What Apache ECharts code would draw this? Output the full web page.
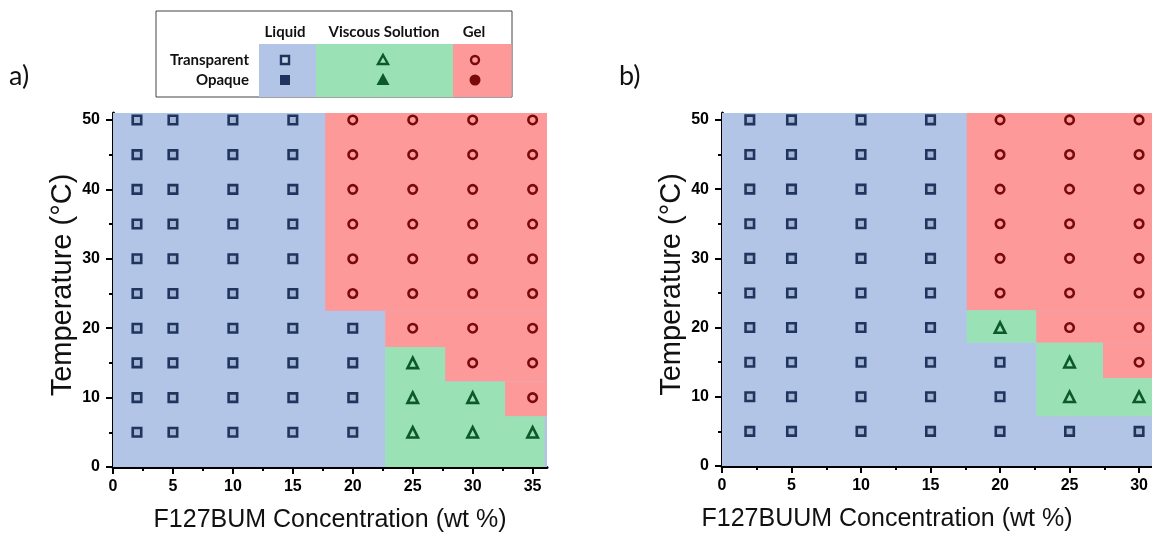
<!DOCTYPE html>
<html>
<head>
<meta charset="utf-8">
<script src="https://cdn.jsdelivr.net/npm/echarts@6/dist/echarts.min.js"></script>
<style>html,body{margin:0;padding:0;background:#fff}#c{width:1152px;height:534px}</style>
</head>
<body>
<div id="c"></div>
<script>
// ---- data ----
const concentrations = [2, 5, 10, 15, 20, 25, 30, 35];
const temperatures = [5, 10, 15, 20, 25, 30, 35, 40, 45, 50];
const xTicks = [0, 5, 10, 15, 20, 25, 30, 35];
const xMinorTicks = [2.5, 7.5, 12.5, 17.5, 22.5, 27.5, 32.5];
const yTicks = [0, 10, 20, 30, 40, 50];
const yMinorTicks = [5, 15, 25, 35, 45];
// phase per concentration (row) over temperatures 5..50 : L=liquid, V=viscous solution, G=gel
const phasesA = [
  'LLLLLLLLLL', // 2
  'LLLLLLLLLL', // 5
  'LLLLLLLLLL', // 10
  'LLLLLLLLLL', // 15
  'LLLLGGGGGG', // 20
  'VVVGGGGGGG', // 25
  'VVGGGGGGGG', // 30
  'VGGGGGGGGG'  // 35
];
const phasesB = [
  'LLLLLLLLLL', // 2
  'LLLLLLLLLL', // 5
  'LLLLLLLLLL', // 10
  'LLLLLLLLLL', // 15
  'LLLVGGGGGG', // 20
  'LVVGGGGGGG', // 25
  'LVGGGGGGGG', // 30
  '----------'  // 35 (outside visible area)
];
// phase regions: [x0, y0, x1, y1]
const liquidRegionA = [[0, 0, 36.2, 51]];
const gelRegionA = [[17.7, 22.5, 36.2, 51], [22.7, 17.3, 36.2, 22.5], [27.7, 12.3, 36.2, 17.3], [32.7, 7.3, 36.2, 12.3]];
const viscousRegionA = [[22.7, 0, 27.7, 17.3], [27.7, 0, 32.7, 12.3], [32.7, 0, 36.0, 7.3]];
const liquidRegionB = [[0, 0, 30.93, 51]];
const gelRegionB = [[17.6, 22.5, 30.93, 51], [22.6, 17.8, 30.93, 22.5], [27.4, 12.7, 30.93, 17.8]];
const viscousRegionB = [[17.6, 17.8, 22.6, 22.5], [22.6, 7.2, 27.4, 17.8], [27.4, 7.2, 30.93, 12.7]];
const xMaxA = 36.2;
const xMaxB = 30.93; // panel b is cut at the right edge of the picture

// ---- styles ----
const C = {
  liquidBg: '#b2c5e6', gelBg: '#fe9999', viscBg: '#9ae2b6',
  liquid: '#1f3560', gel: '#7a0a0a', visc: '#0c5a2b'
};
const FONT = 'Arial, "Liberation Sans", sans-serif';
const LG = 'Lato, Calibri, "Open Sans", sans-serif';

function pointsFor(phases, code) {
  const out = [];
  phases.forEach((row, i) => {
    for (let j = 0; j < row.length; j++) {
      if (row[j] === code) out.push([concentrations[i], temperatures[j]]);
    }
  });
  return out;
}
function regionSeries(idx, rects, color) {
  return {
    type: 'custom', xAxisIndex: idx * 2, yAxisIndex: idx * 2, silent: true, z: 1, clip: false,
    data: rects,
    encode: { x: [0, 2], y: [1, 3] },
    renderItem: function (params, api) {
      const p0 = api.coord([api.value(0), api.value(3)]);
      const p1 = api.coord([api.value(2), api.value(1)]);
      return { type: 'rect', shape: { x: p0[0], y: p0[1], width: p1[0] - p0[0], height: p1[1] - p0[1] }, style: { fill: color } };
    }
  };
}
function scatterSeries(idx, data, symbol, size, color, fill) {
  return {
    type: 'scatter', xAxisIndex: idx * 2, yAxisIndex: idx * 2, z: 5, silent: true,
    symbol: symbol, symbolSize: size, data: data,
    itemStyle: { color: fill, borderColor: color, borderWidth: 2.6, opacity: 1 }
  };
}
function xAxes(gridIndex, max, name, namePad) {
  const major = xTicks.filter(v => v <= max);
  const minor = xMinorTicks.filter(v => v <= max);
  return [{
    gridIndex: gridIndex, type: 'value', min: 0, max: max, position: 'bottom',
    axisLine: { show: true, lineStyle: { color: '#000', width: 3 } },
    axisTick: { show: true, inside: false, length: 7, customValues: major, lineStyle: { color: '#000', width: 2 } },
    axisLabel: { show: true, customValues: major, margin: 12, color: '#000', fontWeight: 'bold', fontSize: 16, fontFamily: FONT },
    splitLine: { show: false },
    name: name, nameLocation: 'middle', nameGap: 41,
    nameTextStyle: { fontSize: 25, color: '#111', fontFamily: FONT, padding: namePad }
  }, {
    gridIndex: gridIndex, type: 'value', min: 0, max: max, position: 'bottom',
    axisLine: { show: false },
    axisTick: { show: true, inside: false, length: 4, customValues: minor, lineStyle: { color: '#000', width: 2 } },
    axisLabel: { show: false }, splitLine: { show: false }
  }];
}
function yAxes(gridIndex) {
  return [{
    gridIndex: gridIndex, type: 'value', min: 0, max: 51, position: 'left',
    axisLine: { show: true, lineStyle: { color: '#000', width: 3 } },
    axisTick: { show: true, inside: false, length: 7, customValues: yTicks, lineStyle: { color: '#000', width: 2 } },
    axisLabel: { show: true, customValues: yTicks, margin: 13, color: '#000', fontWeight: 'bold', fontSize: 16, fontFamily: FONT },
    splitLine: { show: false },
    name: 'Temperature (°C)', nameLocation: 'middle', nameGap: 36, nameRotate: 90,
    nameTextStyle: { fontSize: 29, color: '#111', fontFamily: FONT, padding: [0, 0, 0, 10] }
  }, {
    gridIndex: gridIndex, type: 'value', min: 0, max: 51, position: 'left',
    axisLine: { show: false },
    axisTick: { show: true, inside: false, length: 4, customValues: yMinorTicks, lineStyle: { color: '#000', width: 2 } },
    axisLabel: { show: false }, splitLine: { show: false }
  }];
}

const series = [];
[[phasesA, liquidRegionA, gelRegionA, viscousRegionA], [phasesB, liquidRegionB, gelRegionB, viscousRegionB]].forEach((set, idx) => {
  const [ph, lr, gr, vr] = set;
  series.push(regionSeries(idx, lr, C.liquidBg));
  series.push(regionSeries(idx, gr, C.gelBg));
  series.push(regionSeries(idx, vr, C.viscBg));
  series.push(scatterSeries(idx, pointsFor(ph, 'L'), 'rect', 8.5, C.liquid, '#a4b5d3'));
  series.push(scatterSeries(idx, pointsFor(ph, 'V'), 'triangle', 10.5, C.visc, 'rgba(0,0,0,0)'));
  series.push(scatterSeries(idx, pointsFor(ph, 'G'), 'circle', 8.5, C.gel, 'rgba(0,0,0,0)'));
});

// ---- legend (graphic) ----
const legend = [
  { type: 'rect', shape: { x: 156, y: 11, width: 356, height: 86 }, style: { fill: '#fff', stroke: '#444', lineWidth: 1 }, z: 10 },
  { type: 'rect', shape: { x: 259, y: 44, width: 57, height: 53 }, style: { fill: C.liquidBg }, z: 11 },
  { type: 'rect', shape: { x: 316, y: 44, width: 137, height: 53 }, style: { fill: C.viscBg }, z: 11 },
  { type: 'rect', shape: { x: 453, y: 44, width: 58.5, height: 53 }, style: { fill: C.gelBg }, z: 11 },
  { type: 'text', x: 285, y: 32, style: { text: 'Liquid', font: 'bold 15px ' + LG, fill: '#111', align: 'center', verticalAlign: 'middle' }, z: 12 },
  { type: 'text', x: 384, y: 32, style: { text: 'Viscous Solution', font: 'bold 15px ' + LG, fill: '#111', align: 'center', verticalAlign: 'middle' }, z: 12 },
  { type: 'text', x: 474, y: 32, style: { text: 'Gel', font: 'bold 15px ' + LG, fill: '#111', align: 'center', verticalAlign: 'middle' }, z: 12 },
  { type: 'text', x: 249, y: 60, style: { text: 'Transparent', font: 'bold 15px ' + LG, fill: '#111', align: 'right', verticalAlign: 'middle' }, z: 12 },
  { type: 'text', x: 249, y: 80, style: { text: 'Opaque', font: 'bold 15px ' + LG, fill: '#111', align: 'right', verticalAlign: 'middle' }, z: 12 },
  { type: 'rect', shape: { x: 281, y: 56, width: 8, height: 8 }, style: { fill: '#c9d5ea', stroke: C.liquid, lineWidth: 2.4 }, z: 12 },
  { type: 'rect', shape: { x: 280, y: 75, width: 10, height: 10 }, style: { fill: C.liquid }, z: 12 },
  { type: 'polygon', shape: { points: [[383, 55], [388, 64], [378, 64]] }, style: { fill: 'none', stroke: C.visc, lineWidth: 2.4 }, z: 12 },
  { type: 'polygon', shape: { points: [[383, 73], [389.5, 85], [376.5, 85]] }, style: { fill: C.visc }, z: 12 },
  { type: 'circle', shape: { cx: 475, cy: 60, r: 4 }, style: { fill: 'none', stroke: C.gel, lineWidth: 2.4 }, z: 12 },
  { type: 'circle', shape: { cx: 475, cy: 80, r: 5.5 }, style: { fill: C.gel }, z: 12 },
  { type: 'text', x: 9, y: 76, style: { text: 'a)', font: '27px ' + LG, fill: '#111', verticalAlign: 'middle' }, z: 12 },
  { type: 'text', x: 619, y: 76, style: { text: 'b)', font: '27px ' + LG, fill: '#111', verticalAlign: 'middle' }, z: 12 }
];

const chart = echarts.init(document.getElementById('c'), null, { renderer: 'canvas' });
chart.setOption({
  animation: false,
  backgroundColor: '#fff',
  grid: [
    { left: 113, top: 113, width: 434, height: 354, containLabel: false, outerBoundsMode: 'none' },
    { left: 722, top: 113, width: 430, height: 353, containLabel: false, outerBoundsMode: 'none' }
  ],
  xAxis: [...xAxes(0, xMaxA, 'F127BUM Concentration (wt %)', [0, 0, 0, 0]), ...xAxes(1, xMaxB, 'F127BUUM Concentration (wt %)', [0, 100, 0, 0])],
  yAxis: [...yAxes(0), ...yAxes(1)],
  series: series,
  graphic: legend
});
</script>
</body>
</html>
